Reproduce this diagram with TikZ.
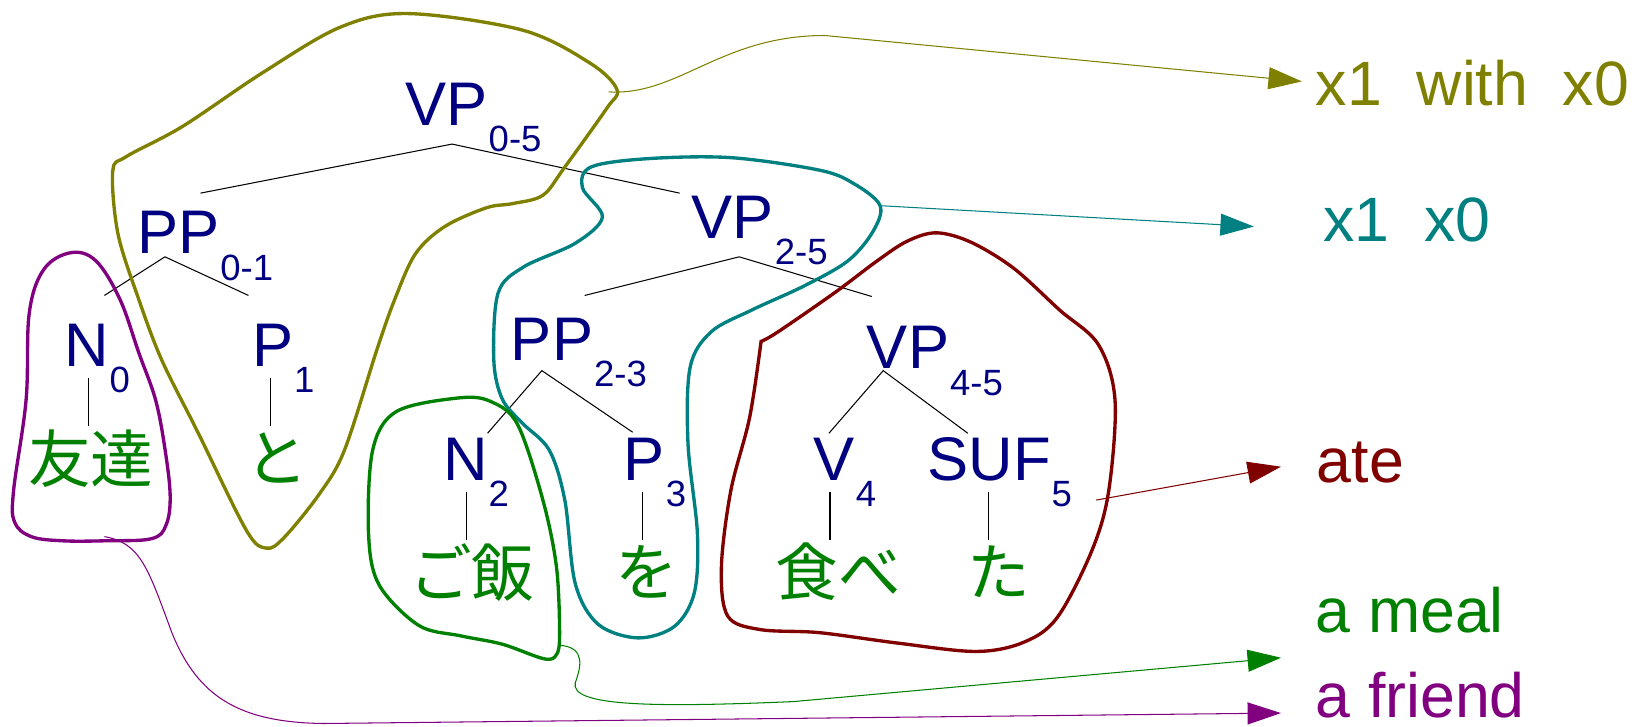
\documentclass[tikz,border=0pt]{standalone}
\usepackage{fontspec}
\setmainfont{Liberation Sans}
\newfontfamily\jpfont{Noto Sans CJK JP}
\usetikzlibrary{arrows.meta}
\definecolor{navyc}{RGB}{0,0,128}
\definecolor{greenc}{RGB}{0,128,0}
\definecolor{olivec}{RGB}{128,128,0}
\definecolor{tealc}{RGB}{0,128,128}
\definecolor{redc}{RGB}{128,0,0}
\definecolor{purplec}{RGB}{128,0,128}
\newcommand{\tlab}[2]{{\fontsize{29.5}{29.5}\selectfont #1}\hspace{0.5pt}\raisebox{-12.7pt}{\fontsize{17.5}{17.5}\selectfont #2}}
\begin{document}
\begin{tikzpicture}[x=0.5pt,y=-0.5pt,
  cat/.style={anchor=base west,inner sep=0pt,text=navyc},
  word/.style={anchor=center,inner sep=0pt,text=greenc,font=\jpfont\fontsize{30}{30}\selectfont},
  gloss/.style={anchor=base west,inner sep=0pt,font=\fontsize{30}{30}\selectfont},
  branch/.style={draw=black,line width=0.5pt},
  blob/.style={line width=1.6pt},
  link/.style={line width=0.5pt,-{Triangle[length=16pt,width=10.5pt]}}]
\useasboundingbox (0,0) rectangle (1568,696);

% category labels
\node[cat] (vp05) at (388,120) {\tlab{VP}{0-5}};
\node[cat] (pp01) at (131,243) {\tlab{PP}{0-1}};
\node[cat] (vp25) at (662,228) {\tlab{VP}{2-5}};
\node[cat] (pp23) at (489,345) {\tlab{PP}{2-3}};
\node[cat] (vp45) at (830,353) {\tlab{VP}{4-5}};
\node[cat] (n0) at (61,351) {\tlab{N}{0}};
\node[cat] (p1) at (241,351) {\tlab{P}{1}};
\node[cat] (n2) at (424,460) {\tlab{N}{2}};
\node[cat] (p3) at (597,460) {\tlab{P}{3}};
\node[cat] (v4) at (779,460) {\tlab{V}{4}};
\node[cat] (suf5) at (888,460) {\tlab{SUF}{5}};

% words
\node[word] (w0) at (87,439) {友達};
\node[word] (w1) at (265,439) {と};
\node[word] (w2) at (452,548) {ご飯};
\node[word] (w3) at (620,548) {を};
\node[word] (w4) at (803,548) {食べ};
\node[word] (w5) at (957,548) {た};

% tree branches
\coordinate (a05) at (433,138);
\coordinate (a01) at (158,246);
\coordinate (a25) at (708,246);
\coordinate (a23) at (519,355);
\coordinate (a45) at (846,355);
\draw[branch] (192,185) -- (a05) -- (651,185);
\draw[branch] (100,283) -- (a01) -- (238,283);
\draw[branch] (560,283) -- (a25) -- (835,284);
\draw[branch] (467,415) -- (a23) -- (606,414);
\draw[branch] (794,415) -- (a45) -- (927,415);
\draw[branch] (85,362) -- (85,408);
\draw[branch] (259,362) -- (259,408);
\draw[branch] (447,471) -- (447,517);
\draw[branch] (615,471) -- (615,517);
\draw[branch] (795,471) -- (795,517);
\draw[branch] (947,471) -- (947,517);

% blobs
\draw[blob,draw=purplec] plot[smooth cycle,tension=0.6] coordinates {
 (68,242) (42,258) (28,300) (25,383) (13,470) (14,500) (30,514) (60,518) (100,518) (145,516) (159,503) (163,475) (158,430) (149,383) (133,338) (115,287) (92,250)};
\draw[blob,draw=olivec] plot[smooth cycle,tension=0.55] coordinates {
 (391,13) (501,29) (566,61) (591,86) (581,104) (541,160) (520,187) (491,195) (466,199) (426,217) (398,243) (378,287) (361,335) (330,431) (306,473) (272,515) (255,525) (236,508) (190,415) (155,345) (133,287) (113,224) (108,164) (121,150) (175,121) (251,70) (326,26)};
\draw[blob,draw=tealc] plot[smooth cycle,tension=0.55] coordinates {
 (843,197) (836,222) (812,250) (770,274) (720,297) (681,318) (661,352) (659,425) (668,511) (665,568) (646,600) (611,611) (573,598) (551,559) (541,479) (526,431) (500,405) (481,382) (473,345) (477,281) (501,256) (551,233) (577,208) (558,180) (566,160) (620,152) (700,151) (785,163) (818,176)};
\draw[blob,draw=greenc] plot[smooth cycle,tension=0.55] coordinates {
 (441,381) (471,385) (496,407) (520,479) (533,543) (536,607) (533,627) (521,631) (481,617) (441,609) (401,599) (363,560) (353,511) (357,431) (380,394)};
\draw[blob,draw=redc] plot[smooth,tension=0.55] coordinates {
 (729,327) (745,318) (800,280) (840,250) (869,231) (897,223) (930,232) (971,257) (1015,297) (1052,330) (1068,383) (1062,470) (1046,527) (1013,591) (981,615) (935,624) (860,616) (785,606) (728,603) (697,590) (691,543) (700,470) (718,400) (729,327)} -- cycle;

% glosses
\node[gloss,text=olivec] (g1) at (1260,101) {x1\ \ with\ \ x0};
\node[gloss,text=tealc] (g2) at (1267,231) {x1\ \ x0};
\node[gloss,text=redc] (g3) at (1261,462) {ate};
\node[gloss,text=greenc] (g4) at (1260,606) {a meal};
\node[gloss,text=purplec] (g5) at (1260,687) {a friend};

% connectors
\coordinate (so) at (583,88);
\coordinate (to) at (1247,78);
\coordinate (st) at (843,197);
\coordinate (tt) at (1201,217);
\coordinate (sr) at (1050,479);
\coordinate (tr) at (1227,447);
\coordinate (sg) at (536,618);
\coordinate (tg) at (1227,630);
\coordinate (sp) at (100,514);
\coordinate (tp) at (1227,683);
\draw[link,draw=olivec] (so) .. controls (650,92) and (690,34) .. (790,34) -- (to);
\draw[link,draw=tealc] (st) -- (tt);
\draw[link,draw=redc] (sr) -- (tr);
\draw[link,draw=greenc] (sg) .. controls (562,620) and (556,640) .. (551,654) .. controls (546,676) and (620,678) .. (760,672) -- (tg);
\draw[link,draw=purplec] (sp) .. controls (135,520) and (142,545) .. (165,607) .. controls (190,668) and (230,692) .. (310,693) -- (tp);
\end{tikzpicture}
\end{document}
